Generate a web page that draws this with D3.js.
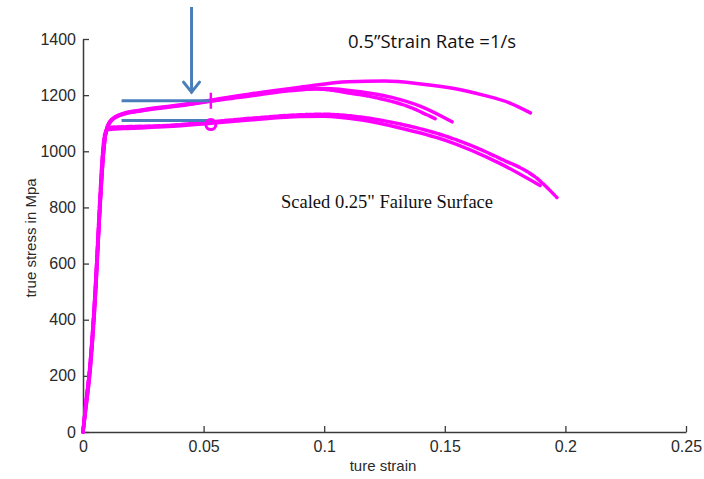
<!DOCTYPE html>
<html><head><meta charset="utf-8">
<script src="https://cdn.jsdelivr.net/npm/d3@7"></script>
<style>body{margin:0;background:#fff}svg{display:block}</style>
</head><body>
<script>
// strain values / stress values (MPa)
const curveA = [[0,0],[0.001,80],[0.003,240],[0.005,480],[0.007,800],[0.0085,1000],[0.0095,1070],[0.011,1105],[0.015,1130],[0.025,1148],[0.04,1165],[0.053,1182],[0.07,1205],[0.09,1228],[0.11,1248],[0.125,1250],[0.14,1240],[0.155,1222],[0.166,1200],[0.177,1172],[0.1855,1137]];
const curveB = [[0,0],[0.001,70],[0.003,220],[0.005,460],[0.007,790],[0.0085,990],[0.0095,1065],[0.011,1100],[0.015,1127],[0.025,1145],[0.04,1162],[0.053,1178],[0.07,1198],[0.085,1215],[0.097,1222],[0.11,1208],[0.122,1190],[0.133,1165],[0.146,1116]];
const curveC = [[0,0],[0.001,75],[0.003,230],[0.005,470],[0.007,795],[0.0085,995],[0.0095,1068],[0.011,1102],[0.015,1128],[0.025,1147],[0.04,1163],[0.053,1180],[0.07,1202],[0.085,1218],[0.1,1224],[0.115,1212],[0.128,1192],[0.14,1160],[0.153,1105]];
const curveD = [[0,0],[0.001,90],[0.003,250],[0.005,500],[0.007,830],[0.008,980],[0.009,1060],[0.0105,1085],[0.02,1088],[0.035,1092],[0.053,1105],[0.07,1118],[0.09,1130],[0.1,1132],[0.115,1122],[0.131,1098],[0.15,1055],[0.173,974],[0.188,905],[0.1965,835]];
const curveE = [[0,0],[0.001,85],[0.003,245],[0.005,490],[0.007,820],[0.008,970],[0.009,1050],[0.0105,1078],[0.02,1082],[0.035,1088],[0.053,1100],[0.07,1112],[0.09,1124],[0.1,1125],[0.115,1112],[0.131,1084],[0.15,1040],[0.173,956],[0.1895,878]];
const xTicks = [0,0.05,0.1,0.15,0.2,0.25];
const yTicks = [0,200,400,600,800,1000,1200,1400];
const hLines = [1180,1110];
const hLineRange = [0.016,0.053];
const arrowX = 0.045;
const markTick = [0.053,1180];
const markCircle = [0.053,1095];

const W=704,H=479;
const svg=d3.select("body").append("svg").attr("width",W).attr("height",H);
const x=d3.scaleLinear().domain([0,0.25]).range([83,686]);
const y=d3.scaleLinear().domain([0,1400]).range([432,39]);
const axisCol="#3a3a3a";

const gx=svg.append("g").attr("transform","translate(0,432)")
 .call(d3.axisBottom(x).tickValues(xTicks).tickSizeInner(-6).tickSizeOuter(0).tickPadding(9).tickFormat(d=>String(d)));
const gy=svg.append("g").attr("transform","translate(83,0)")
 .call(d3.axisLeft(y).tickValues(yTicks).tickSizeInner(-6).tickSizeOuter(0).tickPadding(7).tickFormat(d=>String(d)));
[gx,gy].forEach(g=>{
 g.select(".domain").attr("stroke",axisCol).attr("stroke-width",1.5);
 g.selectAll(".tick line").attr("stroke",axisCol).attr("stroke-width",1.3);
 g.selectAll("text").attr("font-family","Liberation Sans Narrow, Liberation Sans, Arial, sans-serif").attr("font-size",16).attr("fill","#2a2a2a");
});
svg.append("text").attr("x",383).attr("y",471).attr("text-anchor","middle")
 .attr("font-family","Liberation Sans Narrow, Liberation Sans, Arial, sans-serif").attr("font-size",15).attr("fill","#2a2a2a").text("ture strain");
svg.append("text").attr("transform","translate(36,238) rotate(-90)").attr("text-anchor","middle")
 .attr("font-family","Liberation Sans Narrow, Liberation Sans, Arial, sans-serif").attr("font-size",15).attr("fill","#2a2a2a").text("true stress in Mpa");

const line=d3.line().x(d=>x(d[0])).y(d=>y(d[1])).curve(d3.curveMonotoneX);
const mag="#ff00ff";
[[curveA,null],[curveB,"7,2"],[curveC,null],[curveD,"7,2"],[curveE,null]].forEach(([c,dash])=>{
 svg.append("path").datum(c).attr("d",line).attr("fill","none").attr("stroke",mag)
  .attr("stroke-width",3.5).attr("stroke-dasharray",dash).attr("stroke-linecap","round");
});

const blue="#4a7ebb";
hLines.forEach(v=>{
 svg.append("line").attr("x1",x(hLineRange[0])).attr("x2",x(hLineRange[1])).attr("y1",y(v)).attr("y2",y(v))
  .attr("stroke",blue).attr("stroke-width",3);
});
svg.append("line").attr("x1",x(arrowX)).attr("x2",x(arrowX)).attr("y1",7).attr("y2",y(1200)-2)
 .attr("stroke",blue).attr("stroke-width",3);
svg.append("path").attr("d",`M${x(arrowX)-8},${y(1200)-13} L${x(arrowX)},${y(1200)-3} L${x(arrowX)+8},${y(1200)-13}`)
 .attr("fill","none").attr("stroke",blue).attr("stroke-width",3).attr("stroke-linecap","round");

svg.append("line").attr("x1",x(markTick[0])).attr("x2",x(markTick[0])).attr("y1",y(markTick[1])-8).attr("y2",y(markTick[1])+8)
 .attr("stroke",mag).attr("stroke-width",2.5);
svg.append("circle").attr("cx",x(markCircle[0])).attr("cy",y(markCircle[1])).attr("r",5)
 .attr("fill","none").attr("stroke",mag).attr("stroke-width",3);

svg.append("text").attr("x",348).attr("y",48).attr("font-family","Open Sans, Carlito, sans-serif").attr("font-size",18.5).attr("fill","#111")
 .text("0.5\u201DStrain Rate =1/s");
svg.append("text").attr("x",281).attr("y",208).attr("font-family","Liberation Serif, Times New Roman, serif").attr("font-size",18.5).attr("fill","#111")
 .text("Scaled 0.25\" Failure Surface");
</script>
</body></html>
